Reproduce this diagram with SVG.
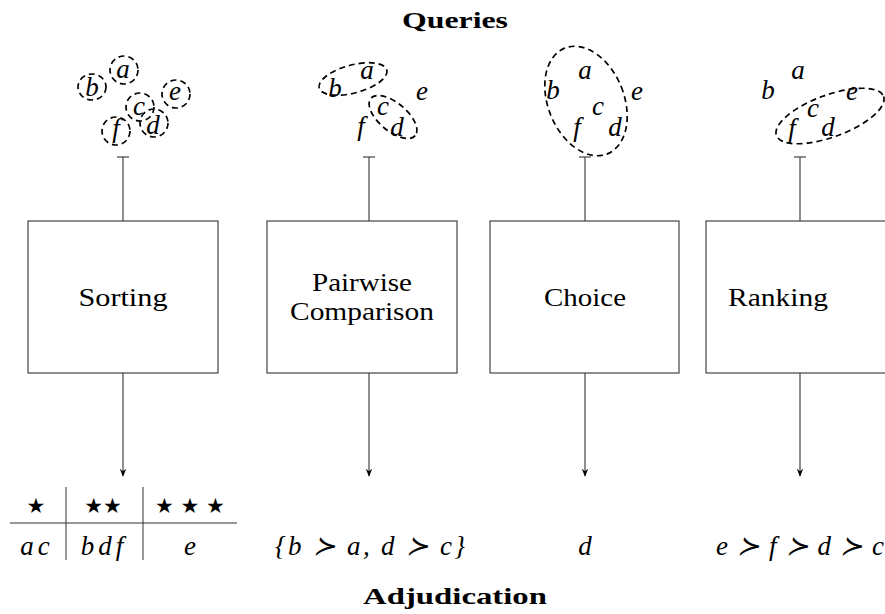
<svg xmlns="http://www.w3.org/2000/svg" width="885" height="614" viewBox="0 0 885 614">
<style>
.title{font-family:"Liberation Serif","DejaVu Serif",serif;font-weight:bold;font-size:23px;text-anchor:middle;fill:#000}
.lbl{font-family:"Liberation Serif","DejaVu Serif",serif;font-size:26px;text-anchor:middle;fill:#000}
.m{font-family:"Liberation Serif","DejaVu Serif",serif;font-style:italic;font-size:27px;text-anchor:middle;fill:#000}
.sym{font-family:"DejaVu Sans",sans-serif;font-size:21px;text-anchor:middle;fill:#000}
.box{fill:#fff;stroke:#444;stroke-width:1.2}
.dash{fill:none;stroke:#000;stroke-width:1.7;stroke-dasharray:6 4}
.ln{stroke:#444;stroke-width:1.2;fill:none}
.tab{stroke:#333;stroke-width:1;fill:none}
</style>
<defs>
<marker id="arr" viewBox="0 0 10 10" refX="9" refY="5" markerWidth="8" markerHeight="8" markerUnits="userSpaceOnUse" orient="auto">
<path d="M0,1 L10,5 L0,9 L3,5 z" fill="#000"/>
</marker>
</defs>
<text class="title" x="455" y="28" textLength="106" lengthAdjust="spacingAndGlyphs">Queries</text>
<text class="title" x="455" y="604" textLength="184" lengthAdjust="spacingAndGlyphs">Adjudication</text>

<g id="connectors">
<line class="ln" x1="123" y1="157" x2="123" y2="221"/>
<line class="ln" x1="117" y1="157" x2="129" y2="157"/>
<line class="ln" x1="123" y1="373" x2="123" y2="476" marker-end="url(#arr)"/>
<line class="ln" x1="369" y1="157" x2="369" y2="221"/>
<line class="ln" x1="363" y1="157" x2="375" y2="157"/>
<line class="ln" x1="369" y1="373" x2="369" y2="476" marker-end="url(#arr)"/>
<line class="ln" x1="585" y1="157" x2="585" y2="221"/>
<line class="ln" x1="579" y1="157" x2="591" y2="157"/>
<line class="ln" x1="585" y1="373" x2="585" y2="476" marker-end="url(#arr)"/>
<line class="ln" x1="800" y1="157" x2="800" y2="221"/>
<line class="ln" x1="794" y1="157" x2="806" y2="157"/>
<line class="ln" x1="800" y1="373" x2="800" y2="476" marker-end="url(#arr)"/>
</g>

<g id="query-sorting">
<text class="m" x="92" y="96">b</text>
<text class="m" x="123" y="78">a</text>
<text class="m" x="175" y="100">e</text>
<text class="m" x="139" y="115">c</text>
<text class="m" x="153" y="134">d</text>
<text class="m" x="116" y="137">f</text>
<ellipse class="dash" cx="92" cy="87" rx="14" ry="13"/>
<ellipse class="dash" cx="124" cy="70" rx="14" ry="14"/>
<ellipse class="dash" cx="176" cy="94" rx="14" ry="14"/>
<ellipse class="dash" cx="140" cy="107" rx="14" ry="14"/>
<ellipse class="dash" cx="154" cy="123" rx="14" ry="14"/>
<ellipse class="dash" cx="116" cy="131" rx="14" ry="14"/>
</g>

<g id="query-pairwise">
<text class="m" x="335" y="97">b</text>
<text class="m" x="367" y="79">a</text>
<text class="m" x="422" y="100">e</text>
<text class="m" x="383" y="115">c</text>
<text class="m" x="397" y="136">d</text>
<text class="m" x="361" y="135">f</text>
<ellipse class="dash" cx="353" cy="79" rx="35" ry="14" transform="rotate(-15 353 79)"/>
<ellipse class="dash" cx="393" cy="117" rx="29" ry="14" transform="rotate(40 393 117)"/>
</g>

<g id="query-choice">
<text class="m" x="553" y="99">b</text>
<text class="m" x="585" y="79">a</text>
<text class="m" x="637" y="100">e</text>
<text class="m" x="598" y="115">c</text>
<text class="m" x="615" y="136">d</text>
<text class="m" x="577" y="136">f</text>
<ellipse class="dash" cx="586" cy="101" rx="38" ry="57" transform="rotate(-22 586 101)"/>
</g>

<g id="query-ranking">
<text class="m" x="768" y="99">b</text>
<text class="m" x="798" y="79">a</text>
<text class="m" x="852" y="100">e</text>
<text class="m" x="813" y="117">c</text>
<text class="m" x="828" y="136">d</text>
<text class="m" x="792" y="137">f</text>
<ellipse class="dash" cx="830" cy="116" rx="57" ry="21" transform="rotate(-20 830 116)"/>
</g>

<g id="node-sorting">
<rect class="box" x="28" y="221" width="190" height="152"/>
<text class="lbl" x="123" y="306" textLength="89" lengthAdjust="spacingAndGlyphs">Sorting</text>
</g>
<g id="node-pairwise">
<rect class="box" x="267" y="221" width="190" height="152"/>
<text class="lbl" x="362" y="291" textLength="100" lengthAdjust="spacingAndGlyphs">Pairwise</text>
<text class="lbl" x="362" y="320" textLength="144" lengthAdjust="spacingAndGlyphs">Comparison</text>
</g>
<g id="node-choice">
<rect class="box" x="490" y="221" width="189" height="152"/>
<text class="lbl" x="585" y="306" textLength="82" lengthAdjust="spacingAndGlyphs">Choice</text>
</g>
<g id="node-ranking">
<rect class="box" x="706" y="221" width="190" height="152"/>
<text class="lbl" x="778" y="306" textLength="100" lengthAdjust="spacingAndGlyphs">Ranking</text>
</g>

<g id="out-sorting">
<line class="tab" x1="10" y1="523" x2="237" y2="523"/>
<line class="tab" x1="66" y1="487" x2="66" y2="560"/>
<line class="tab" x1="143" y1="487" x2="143" y2="560"/>
<text class="sym" x="36" y="513">★</text>
<text class="sym" x="103" y="513">★★</text>
<text class="sym" x="190" y="513">★ ★ ★</text>
<text class="m" x="37" y="555" letter-spacing="4">ac</text>
<text class="m" x="104" y="555" letter-spacing="4">bdf</text>
<text class="m" x="190" y="555">e</text>
</g>
<g id="out-pairwise">
<text class="m" x="370" y="555" textLength="190" lengthAdjust="spacing">{b ≻ a, d ≻ c}</text>
</g>
<g id="out-choice">
<text class="m" x="585" y="555">d</text>
</g>
<g id="out-ranking">
<text class="m" x="800" y="555" textLength="168" lengthAdjust="spacing">e ≻ f ≻ d ≻ c</text>
</g>
</svg>
